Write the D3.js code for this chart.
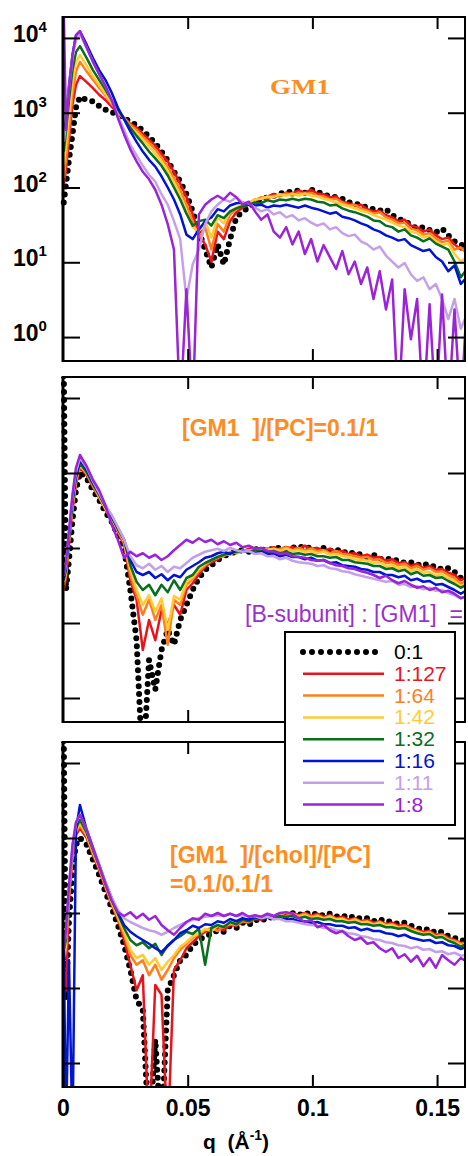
<!DOCTYPE html>
<html lang="en">
<head>
<meta charset="UTF-8">
<title>SAXS q profiles</title>
<style>
    html,body{ margin:0; background:#fff; overflow:hidden; }
    text{ font-family:"Liberation Sans", Arial, sans-serif; white-space:pre; }
</style>
</head>
<body>
<svg id="svg"></svg>
<script src="https://d3js.org/d3.v7.min.js"></script>
<script>
// q grid (1/A), shared by every curve
const q = [
    0.0003, 0.0012, 0.0024, 0.0038, 0.0052, 0.0068, 0.0095, 0.012, 0.0145, 0.017,
    0.0195, 0.022, 0.0245, 0.027, 0.0295, 0.032, 0.0345, 0.037, 0.0395, 0.042,
    0.0445, 0.047, 0.0495, 0.052, 0.0545, 0.057, 0.0595, 0.062, 0.0645, 0.067,
    0.0695, 0.072, 0.0745, 0.077, 0.0795, 0.082, 0.0845, 0.087, 0.0895, 0.092,
    0.0945, 0.097, 0.0995, 0.102, 0.1045, 0.107, 0.1095, 0.112, 0.1145, 0.117,
    0.1195, 0.122, 0.1245, 0.127, 0.1295, 0.132, 0.1345, 0.137, 0.1395, 0.142,
    0.1445, 0.147, 0.1495, 0.152, 0.1545, 0.157, 0.1595, 0.162
];
const ratios = ['0:1', '1:127', '1:64', '1:42', '1:32', '1:16', '1:11', '1:8'];
const colors = ['#000000', '#e8141c', '#ff7f1e', '#ffcc33', '#0a6e1e', '#0014d2', '#c4a0e8', '#9a24d8'];
const xTicks = [0, 0.05, 0.1, 0.15];
const decades = [1, 10, 100, 1000, 10000];

// log10 intensity, panel 1 : GM1
const gm1_01 = [1.8, 2.04, 2.37, 2.71, 3.07, 3.21, 3.17, 3.15, 3.09, 3.04,
    3.01, 2.97, 2.93, 2.88, 2.83, 2.76, 2.68, 2.59, 2.48, 2.36,
    2.21, 2.08, 1.91, 1.68, 1.41, 1.17, 0.93, 1.24, 0.97, 1.31,
    1.6, 1.68, 1.73, 1.8, 1.84, 1.87, 1.89, 1.92, 1.93, 1.95,
    1.96, 1.93, 1.97, 1.95, 1.9, 1.89, 1.87, 1.85, 1.8, 1.79,
    1.76, 1.73, 1.71, 1.69, 1.71, 1.63, 1.58, 1.55, 1.5, 1.45,
    1.47, 1.43, 1.4, 1.45, 1.36, 1.28, 1.24, 1.2];
const gm1_127 = [2.04, 2.24, 2.64, 3.11, 3.37, 3.49, 3.41, 3.33, 3.24, 3.17,
    3.08, 3.0, 2.93, 2.85, 2.8, 2.72, 2.64, 2.56, 2.45, 2.35,
    2.21, 2.05, 1.87, 1.64, 1.37, 1.24, 1.01, 1.41, 1.31, 1.55,
    1.67, 1.73, 1.77, 1.84, 1.85, 1.88, 1.91, 1.89, 1.93, 1.92,
    1.96, 1.93, 1.97, 1.92, 1.91, 1.87, 1.88, 1.81, 1.79, 1.76,
    1.77, 1.71, 1.68, 1.69, 1.63, 1.6, 1.55, 1.57, 1.49, 1.47,
    1.41, 1.44, 1.36, 1.31, 1.33, 1.24, 1.17, 1.2];
const gm1_64 = [2.13, 2.37, 2.77, 3.24, 3.55, 3.68, 3.55, 3.44, 3.33, 3.23,
    3.12, 3.01, 2.93, 2.84, 2.77, 2.68, 2.6, 2.51, 2.4, 2.28,
    2.13, 1.97, 1.77, 1.55, 1.33, 1.47, 1.17, 1.51, 1.41, 1.64,
    1.71, 1.76, 1.79, 1.83, 1.87, 1.85, 1.89, 1.88, 1.92, 1.89,
    1.93, 1.91, 1.93, 1.89, 1.88, 1.84, 1.85, 1.8, 1.76, 1.77,
    1.72, 1.69, 1.65, 1.67, 1.6, 1.57, 1.52, 1.53, 1.45, 1.43,
    1.37, 1.39, 1.32, 1.27, 1.29, 1.17, 1.2, 1.11];
const gm1_42 = [2.31, 2.57, 2.97, 3.41, 3.68, 3.77, 3.63, 3.49, 3.37, 3.25,
    3.13, 3.01, 2.92, 2.81, 2.73, 2.64, 2.55, 2.45, 2.35, 2.21,
    2.07, 1.89, 1.68, 1.47, 1.41, 1.55, 1.33, 1.6, 1.52, 1.68,
    1.73, 1.77, 1.8, 1.84, 1.85, 1.88, 1.87, 1.91, 1.89, 1.92,
    1.89, 1.92, 1.89, 1.88, 1.85, 1.83, 1.8, 1.77, 1.75, 1.72,
    1.69, 1.67, 1.63, 1.6, 1.57, 1.53, 1.49, 1.47, 1.41, 1.39,
    1.33, 1.35, 1.28, 1.23, 1.25, 1.11, 1.01, 1.07];
const gm1_32 = [2.48, 2.75, 3.17, 3.57, 3.81, 3.89, 3.73, 3.57, 3.44, 3.31,
    3.17, 3.04, 2.92, 2.8, 2.69, 2.59, 2.48, 2.39, 2.29, 2.16,
    2.0, 1.84, 1.65, 1.49, 1.55, 1.57, 1.49, 1.63, 1.59, 1.68,
    1.72, 1.75, 1.77, 1.8, 1.79, 1.83, 1.81, 1.84, 1.83, 1.85,
    1.83, 1.85, 1.84, 1.81, 1.8, 1.76, 1.77, 1.72, 1.69, 1.67,
    1.64, 1.61, 1.56, 1.55, 1.49, 1.47, 1.41, 1.44, 1.36, 1.33,
    1.28, 1.32, 1.25, 1.21, 1.17, 1.01, 0.8, 0.91];
const gm1_16 = [2.64, 2.91, 3.37, 3.77, 4.03, 4.09, 3.91, 3.73, 3.57, 3.44,
    3.27, 3.07, 2.91, 2.75, 2.61, 2.48, 2.37, 2.28, 2.15, 2.0,
    1.84, 1.64, 1.37, 1.31, 1.44, 1.55, 1.6, 1.71, 1.68, 1.76,
    1.79, 1.8, 1.77, 1.76, 1.77, 1.73, 1.76, 1.75, 1.77, 1.75,
    1.73, 1.76, 1.73, 1.71, 1.68, 1.65, 1.67, 1.61, 1.59, 1.56,
    1.52, 1.49, 1.44, 1.41, 1.36, 1.33, 1.29, 1.31, 1.23, 1.19,
    1.15, 1.17, 1.07, 1.01, 0.88, 0.96, 0.71, 0.8];
const gm1_11 = [2.61, 2.84, 3.33, 3.73, 3.97, 4.05, 3.87, 3.68, 3.51, 3.36,
    3.17, 2.96, 2.77, 2.57, 2.43, 2.29, 2.17, 2.08, 1.91, 1.77,
    1.55, 1.31, 0.51, 0.97, 1.17, 1.51, 1.68, 1.77, 1.84, 1.81,
    1.87, 1.8, 1.79, 1.73, 1.68, 1.71, 1.64, 1.67, 1.6, 1.63,
    1.56, 1.59, 1.53, 1.49, 1.52, 1.44, 1.47, 1.39, 1.35, 1.37,
    1.28, 1.24, 1.17, 1.21, 1.09, 1.01, 0.93, 0.99, 0.84, 0.75,
    0.8, 0.64, 0.71, 0.51, 0.24, 0.51, 0.11, 0.31];
const gm1_8 = [4.4, 2.77, 3.31, 3.77, 4.04, 4.09, 3.87, 3.68, 3.52, 3.36,
    3.17, 2.93, 2.71, 2.51, 2.35, 2.21, 2.11, 1.97, 1.77, 1.51,
    1.17, -1, 0.64, -1, 1.64, 1.77, 1.84, 1.89, 1.84, 1.93,
    1.87, 1.77, 1.81, 1.68, 1.57, 1.64, 1.41, 1.33, 1.47, 1.24,
    1.41, 1.11, 1.31, 1.01, 1.23, 1.07, 0.91, 1.15, 0.84, 1.01,
    0.71, 0.93, 0.51, 0.88, 0.37, 0.77, -1, 0.64, -0.03, 0.51,
    -1, 0.44, -1, 0.57, -1, 0.37, -1, 0.51];

// panel 2 : [GM1]/[PC] = 0.1/1
const pc_01 = [4.4, 1.44, 1.84, 2.37, 2.77, 3.01, 2.93, 2.77, 2.64, 2.48,
    2.35, 2.17, 2.0, 1.44, 0.77, -1, 0.51, 0.11, 0.64, 0.91,
    0.71, 1.04, 1.24, 1.44, 1.6, 1.71, 1.77, 1.84, 1.89, 1.93,
    1.95, 1.97, 1.95, 1.99, 1.96, 2.0, 1.97, 2.01, 1.99, 2.0,
    2.03, 1.99, 2.01, 1.97, 2.0, 1.96, 1.99, 1.93, 1.96, 1.91,
    1.92, 1.88, 1.91, 1.85, 1.87, 1.83, 1.84, 1.8, 1.81, 1.77,
    1.8, 1.75, 1.76, 1.71, 1.73, 1.68, 1.6, 1.64];
const pc_127 = [1.44, 1.6, 2.04, 2.51, 2.84, 3.07, 2.97, 2.81, 2.67, 2.51,
    2.37, 2.21, 2.04, 1.57, 1.31, 0.64, 1.04, 0.77, 1.17, 0.97,
    1.24, 1.11, 1.44, 1.53, 1.65, 1.75, 1.81, 1.85, 1.91, 1.92,
    1.96, 1.95, 1.99, 1.96, 2.0, 1.97, 2.01, 1.97, 2.0, 2.01,
    1.99, 2.03, 1.99, 2.0, 1.96, 1.99, 1.95, 1.96, 1.92, 1.93,
    1.89, 1.91, 1.87, 1.88, 1.83, 1.85, 1.8, 1.81, 1.76, 1.79,
    1.73, 1.76, 1.71, 1.72, 1.67, 1.64, 1.57, 1.61];
const pc_64 = [1.51, 1.64, 2.08, 2.55, 2.88, 3.09, 2.99, 2.83, 2.68, 2.52,
    2.39, 2.23, 2.07, 1.64, 1.37, 1.11, 1.31, 1.04, 1.24, 0.71,
    1.31, 1.24, 1.51, 1.59, 1.69, 1.77, 1.83, 1.88, 1.89, 1.95,
    1.93, 1.97, 1.96, 1.99, 1.97, 2.0, 1.96, 1.99, 2.01, 1.97,
    2.0, 1.97, 1.99, 1.96, 1.97, 1.93, 1.96, 1.92, 1.91, 1.89,
    1.87, 1.88, 1.84, 1.85, 1.8, 1.81, 1.77, 1.79, 1.73, 1.76,
    1.71, 1.73, 1.68, 1.69, 1.64, 1.6, 1.52, 1.57];
const pc_42 = [1.55, 1.68, 2.11, 2.57, 2.91, 3.11, 3.0, 2.84, 2.69, 2.53,
    2.4, 2.24, 2.09, 1.71, 1.44, 1.24, 1.37, 1.15, 1.33, 0.91,
    1.36, 1.31, 1.55, 1.61, 1.72, 1.79, 1.84, 1.87, 1.92, 1.91,
    1.96, 1.95, 1.97, 1.96, 1.99, 1.97, 1.99, 1.96, 1.99, 1.96,
    1.97, 1.95, 1.96, 1.93, 1.95, 1.91, 1.92, 1.89, 1.88, 1.85,
    1.84, 1.83, 1.8, 1.81, 1.76, 1.77, 1.73, 1.75, 1.69, 1.72,
    1.67, 1.68, 1.63, 1.65, 1.6, 1.56, 1.49, 1.53];
const pc_32 = [1.57, 1.71, 2.13, 2.6, 2.93, 3.13, 3.01, 2.85, 2.71, 2.55,
    2.41, 2.25, 2.11, 1.77, 1.55, 1.44, 1.51, 1.37, 1.51, 1.41,
    1.57, 1.44, 1.6, 1.64, 1.75, 1.8, 1.84, 1.88, 1.91, 1.93,
    1.95, 1.96, 1.95, 1.97, 1.96, 1.95, 1.96, 1.93, 1.95, 1.92,
    1.93, 1.91, 1.92, 1.89, 1.89, 1.87, 1.88, 1.84, 1.84, 1.81,
    1.8, 1.79, 1.76, 1.76, 1.72, 1.73, 1.69, 1.71, 1.65, 1.68,
    1.63, 1.64, 1.6, 1.61, 1.56, 1.52, 1.47, 1.51];
const pc_16 = [1.6, 1.73, 2.16, 2.64, 2.96, 3.17, 3.04, 2.87, 2.72, 2.56,
    2.43, 2.27, 2.11, 1.84, 1.68, 1.64, 1.68, 1.6, 1.65, 1.57,
    1.64, 1.61, 1.71, 1.76, 1.81, 1.87, 1.89, 1.93, 1.95, 1.92,
    1.97, 1.95, 1.96, 1.93, 1.95, 1.92, 1.93, 1.89, 1.91, 1.88,
    1.88, 1.85, 1.87, 1.83, 1.84, 1.8, 1.81, 1.77, 1.76, 1.75,
    1.72, 1.71, 1.68, 1.68, 1.64, 1.64, 1.61, 1.63, 1.57, 1.59,
    1.55, 1.56, 1.51, 1.52, 1.48, 1.44, 1.39, 1.44];
const pc_11 = [1.63, 1.77, 2.21, 2.68, 3.01, 3.2, 3.07, 2.89, 2.73, 2.57,
    2.44, 2.28, 2.11, 1.89, 1.77, 1.73, 1.79, 1.71, 1.76, 1.68,
    1.75, 1.73, 1.8, 1.87, 1.91, 1.95, 1.97, 1.99, 1.96, 2.0,
    1.97, 1.95, 1.96, 1.92, 1.93, 1.89, 1.89, 1.85, 1.87, 1.83,
    1.81, 1.8, 1.79, 1.76, 1.77, 1.73, 1.72, 1.69, 1.68, 1.65,
    1.63, 1.61, 1.59, 1.57, 1.55, 1.56, 1.51, 1.52, 1.48, 1.49,
    1.45, 1.47, 1.43, 1.44, 1.4, 1.37, 1.33, 1.36];
const pc_8 = [1.64, 1.81, 2.24, 2.71, 3.07, 3.24, 3.09, 2.91, 2.77, 2.57,
    2.31, 2.11, 1.87, 1.95, 1.89, 1.93, 1.87, 1.91, 1.84, 1.89,
    1.97, 2.04, 2.11, 2.07, 2.13, 2.08, 2.11, 2.05, 2.09, 2.04,
    2.07, 2.01, 2.03, 1.99, 2.0, 1.96, 1.95, 1.92, 1.93, 1.89,
    1.88, 1.87, 1.84, 1.83, 1.84, 1.8, 1.77, 1.76, 1.73, 1.72,
    1.69, 1.67, 1.64, 1.6, 1.63, 1.57, 1.53, 1.56, 1.51, 1.47,
    1.49, 1.44, 1.47, 1.41, 1.43, 1.39, 1.33, 1.36];

// panel 3 : [GM1]/[chol]/[PC] = 0.1/0.1/1
const chol_01 = [4.4, 0.84, 1.91, 2.57, 2.91, 3.0, 2.91, 2.71, 2.51, 2.28,
    2.07, 1.84, 1.57, 1.24, 0.84, 0.71, -1, 0.31, -1, 0.97,
    1.17, 1.37, 1.44, 1.57, 1.64, 1.69, 1.72, 1.77, 1.75, 1.83,
    1.8, 1.87, 1.84, 1.91, 1.89, 1.95, 1.93, 1.97, 1.95, 2.0,
    1.97, 2.01, 1.97, 2.0, 1.96, 1.99, 1.95, 1.97, 1.93, 1.96,
    1.92, 1.93, 1.89, 1.92, 1.88, 1.89, 1.85, 1.87, 1.83, 1.8,
    1.77, 1.79, 1.73, 1.75, 1.69, 1.67, 1.63, 1.64];
const chol_127 = [1.24, 0.97, 2.17, 2.71, 3.04, 3.13, 3.0, 2.77, 2.57, 2.33,
    2.11, 1.91, 1.64, 1.31, 0.97, 1.17, -1, 1.04, 0.91, -1,
    1.24, 1.37, 1.53, 1.61, 1.69, 1.75, 1.77, 1.8, 1.77, 1.84,
    1.83, 1.88, 1.87, 1.92, 1.91, 1.95, 1.93, 1.97, 1.96, 2.0,
    1.97, 2.0, 1.96, 1.99, 1.95, 1.97, 1.93, 1.95, 1.91, 1.93,
    1.89, 1.91, 1.87, 1.89, 1.85, 1.87, 1.83, 1.84, 1.8, 1.77,
    1.75, 1.76, 1.71, 1.72, 1.67, 1.64, 1.6, 1.61];
const chol_64 = [1.37, 1.51, 2.24, 2.77, 3.08, 3.17, 3.03, 2.8, 2.6, 2.36,
    2.13, 1.93, 1.71, 1.44, 1.31, 1.37, 1.17, 1.31, 1.11, 1.24,
    1.4, 1.51, 1.59, 1.67, 1.72, 1.77, 1.8, 1.76, 1.83, 1.85,
    1.84, 1.89, 1.88, 1.93, 1.92, 1.96, 1.93, 1.97, 1.96, 1.99,
    1.96, 1.99, 1.95, 1.97, 1.93, 1.96, 1.92, 1.93, 1.89, 1.92,
    1.88, 1.89, 1.85, 1.88, 1.84, 1.85, 1.81, 1.83, 1.79, 1.76,
    1.73, 1.75, 1.69, 1.71, 1.65, 1.63, 1.59, 1.6];
const chol_42 = [1.44, 1.57, 2.28, 2.81, 3.11, 3.2, 3.04, 2.81, 2.61, 2.37,
    2.15, 1.96, 1.75, 1.51, 1.4, 1.44, 1.31, 1.4, 1.24, 1.35,
    1.44, 1.55, 1.61, 1.69, 1.73, 1.79, 1.76, 1.83, 1.81, 1.87,
    1.85, 1.91, 1.89, 1.93, 1.93, 1.96, 1.95, 1.97, 1.95, 1.97,
    1.95, 1.97, 1.93, 1.96, 1.92, 1.95, 1.91, 1.92, 1.88, 1.91,
    1.87, 1.88, 1.84, 1.87, 1.83, 1.84, 1.8, 1.81, 1.77, 1.75,
    1.72, 1.73, 1.68, 1.69, 1.64, 1.61, 1.57, 1.59];
const chol_32 = [1.51, 1.64, 2.31, 2.84, 3.13, 3.24, 3.07, 2.84, 2.63, 2.39,
    2.17, 1.99, 1.8, 1.64, 1.57, 1.61, 1.53, 1.59, 1.44, 1.57,
    1.64, 1.69, 1.75, 1.72, 1.79, 1.31, 1.8, 1.84, 1.81, 1.88,
    1.85, 1.91, 1.89, 1.93, 1.92, 1.95, 1.93, 1.96, 1.95, 1.96,
    1.93, 1.95, 1.92, 1.93, 1.91, 1.92, 1.89, 1.89, 1.87, 1.88,
    1.85, 1.85, 1.83, 1.84, 1.81, 1.81, 1.79, 1.8, 1.76, 1.73,
    1.71, 1.72, 1.67, 1.68, 1.63, 1.6, 1.55, 1.59];
const chol_16 = [1.64, -1, 1.37, -1, 3.11, 3.44, 3.11, 2.87, 2.64, 2.41,
    2.2, 2.01, 1.84, 1.75, 1.69, 1.64, 1.59, 1.53, 1.48, 1.56,
    1.64, 1.73, 1.77, 1.83, 1.8, 1.85, 1.84, 1.89, 1.87, 1.92,
    1.89, 1.93, 1.91, 1.95, 1.92, 1.95, 1.92, 1.93, 1.91, 1.92,
    1.89, 1.89, 1.87, 1.88, 1.85, 1.85, 1.83, 1.83, 1.8, 1.81,
    1.77, 1.79, 1.76, 1.76, 1.73, 1.72, 1.69, 1.71, 1.67, 1.65,
    1.63, 1.64, 1.6, 1.61, 1.57, 1.56, 1.52, 1.55];
const chol_11 = [1.57, 1.71, 2.33, 2.87, 3.2, 3.31, 3.11, 2.87, 2.64, 2.41,
    2.21, 2.04, 1.93, 1.88, 1.84, 1.8, 1.77, 1.75, 1.71, 1.75,
    1.8, 1.84, 1.88, 1.91, 1.93, 1.95, 1.96, 1.97, 1.96, 1.99,
    1.96, 1.97, 1.95, 1.96, 1.93, 1.95, 1.92, 1.92, 1.89, 1.89,
    1.87, 1.85, 1.84, 1.83, 1.8, 1.8, 1.77, 1.76, 1.73, 1.72,
    1.69, 1.68, 1.65, 1.64, 1.61, 1.6, 1.57, 1.56, 1.53, 1.55,
    1.51, 1.52, 1.48, 1.49, 1.45, 1.47, 1.43, 1.44];
const chol_8 = [1.51, 1.77, 2.37, 2.91, 3.21, 3.31, 3.11, 2.87, 2.63, 2.39,
    2.17, 2.01, 1.96, 2.01, 1.93, 1.99, 1.91, 1.96, 1.84, 1.77,
    1.71, 1.8, 1.88, 1.93, 1.91, 1.99, 1.96, 2.0, 1.96, 1.99,
    1.96, 2.0, 1.95, 1.97, 1.95, 1.99, 1.96, 2.0, 2.01, 1.99,
    1.93, 1.88, 1.91, 1.81, 1.84, 1.77, 1.73, 1.76, 1.69, 1.64,
    1.67, 1.59, 1.61, 1.53, 1.48, 1.53, 1.4, 1.45, 1.35, 1.43,
    1.29, 1.4, 1.27, 1.44, 1.37, 1.31, 1.4, 1.35];

const svg = d3.select('#svg').attr('width', 468).attr('height', 1156);
const left = 63, right = 465;

const xScale = d3.scaleLinear().domain([0, 0.1612]).range([left, right]);

const panels = [
    { top: 17, bottom: 361, series: [gm1_01, gm1_127, gm1_64, gm1_42, gm1_32, gm1_16, gm1_11, gm1_8] },
    { top: 377, bottom: 722, series: [pc_01, pc_127, pc_64, pc_42, pc_32, pc_16, pc_11, pc_8] },
    { top: 742, bottom: 1087, series: [chol_01, chol_127, chol_64, chol_42, chol_32, chol_16, chol_11, chol_8] }
];

panels.forEach((p, i) => {
    const yScale = d3.scaleLog()
        .domain([Math.pow(10, -0.32), Math.pow(10, 4.28)])
        .range([p.bottom, p.top]);

    const g = svg.append('g');
    g.append('clipPath').attr('id', 'clip' + i)
        .append('rect')
        .attr('x', left - 4).attr('y', p.top)
        .attr('width', right - left + 4).attr('height', p.bottom - p.top);

    const line = d3.line()
        .x((v, k) => xScale(q[k]))
        .y(v => yScale(Math.pow(10, v)));

    const curves = g.append('g').attr('clip-path', `url(#clip${i})`);
    p.series.forEach((s, k) => {
        const path = curves.append('path')
            .datum(s)
            .attr('d', line)
            .attr('fill', 'none')
            .attr('stroke', colors[k])
            .attr('stroke-linejoin', 'round');
        if (k === 0) {
            path.attr('stroke-width', 6)
                .attr('stroke-linecap', 'round')
                .attr('stroke-dasharray', '0 8');
        } else {
            path.attr('stroke-width', 2.5);
        }
    });

    // frame + inward ticks
    g.append('rect')
        .attr('x', left).attr('y', p.top)
        .attr('width', right - left).attr('height', p.bottom - p.top)
        .attr('fill', 'none').attr('stroke', '#000').attr('stroke-width', 2);
    g.append('line')
        .attr('x1', left).attr('x2', left).attr('y1', p.top - 1).attr('y2', p.bottom + 1)
        .attr('stroke', '#000').attr('stroke-width', 3);

    const tidy = sel => {
        sel.select('.domain').remove();
        sel.selectAll('.tick line').attr('stroke', '#000').attr('stroke-width', 2);
    };

    g.append('g').attr('transform', `translate(${left},0)`)
        .call(d3.axisLeft(yScale).tickValues(decades).tickSize(-17).tickFormat(''))
        .call(tidy);
    g.append('g').attr('transform', `translate(${right},0)`)
        .call(d3.axisRight(yScale).tickValues(decades).tickSize(-17).tickFormat(''))
        .call(tidy);
    g.append('g').attr('transform', `translate(0,${p.top})`)
        .call(d3.axisTop(xScale).tickValues(xTicks.slice(1)).tickSize(-12).tickFormat(''))
        .call(tidy);

    const last = i === panels.length - 1;
    const xAxis = d3.axisBottom(xScale)
        .tickValues(last ? xTicks : xTicks.slice(1))
        .tickSize(-12)
        .tickPadding(13)
        .tickFormat(last ? d => String(d) : '');
    g.append('g').attr('transform', `translate(0,${p.bottom})`)
        .call(xAxis)
        .call(tidy)
        .call(sel => sel.selectAll('text')
            .attr('fill', '#000')
            .style('font-size', '23px')
            .style('font-weight', 'bold')
            .style('font-family', '"Liberation Sans", Arial, sans-serif'));

    if (i === 0) {
        const lab = g.selectAll('.ylab').data(decades).join('text')
            .attr('class', 'ylab')
            .attr('x', 13)
            .attr('y', d => yScale(d) + 4)
            .style('font-size', '23px')
            .style('font-weight', 'bold')
            .text('10');
        lab.append('tspan')
            .attr('dy', -10)
            .style('font-size', '15px')
            .text(d => Math.round(Math.log10(d)));
    }
});

// panel captions
const orange = '#ff8c23';
svg.append('text')
    .attr('x', 270).attr('y', 94)
    .attr('textLength', 60).attr('lengthAdjust', 'spacingAndGlyphs')
    .style('font-family', '"Liberation Serif", "Times New Roman", serif')
    .style('font-weight', 'bold').style('font-size', '22px')
    .attr('fill', orange)
    .text('GM1');
svg.append('text')
    .attr('x', 182).attr('y', 436)
    .style('font-weight', 'bold').style('font-size', '23px')
    .attr('fill', orange)
    .text('[GM1  ]/[PC]=0.1/1');
svg.append('text')
    .attr('x', 170).attr('y', 863)
    .style('font-weight', 'bold').style('font-size', '23px')
    .attr('fill', orange)
    .text('[GM1  ]/[chol]/[PC]');
svg.append('text')
    .attr('x', 170).attr('y', 892)
    .style('font-weight', 'bold').style('font-size', '23px')
    .attr('fill', orange)
    .text('=0.1/0.1/1');

svg.append('text')
    .attr('x', 245).attr('y', 622)
    .style('font-size', '23px')
    .attr('fill', '#9a30d0')
    .text('[B-subunit] : [GM1]  =');

// legend
const legend = svg.append('g');
legend.append('rect')
    .attr('x', 285).attr('y', 632).attr('width', 170).attr('height', 193)
    .attr('fill', '#fff').attr('stroke', '#000').attr('stroke-width', 2);
const rows = legend.selectAll('g.row').data(ratios).join('g')
    .attr('class', 'row')
    .attr('transform', (d, k) => `translate(0,${659 + k * 21.8})`);
rows.append('line')
    .attr('x1', 303).attr('x2', 384).attr('y1', -7).attr('y2', -7)
    .attr('stroke', (d, k) => colors[k])
    .attr('stroke-width', (d, k) => k === 0 ? 6 : 2.5)
    .attr('stroke-linecap', (d, k) => k === 0 ? 'round' : 'butt')
    .attr('stroke-dasharray', (d, k) => k === 0 ? '0 9' : null);
rows.append('text')
    .attr('x', 394)
    .style('font-size', '21px')
    .attr('fill', (d, k) => colors[k])
    .text(d => d);

// x title
const title = svg.append('text')
    .attr('x', 203).attr('y', 1149)
    .style('font-weight', 'bold').style('font-size', '21px')
    .text('q  (\u00c5');
title.append('tspan').attr('dy', -9).style('font-size', '14px').text('-1');
title.append('tspan').attr('dy', 9).text(')');
</script>
</body>
</html>
